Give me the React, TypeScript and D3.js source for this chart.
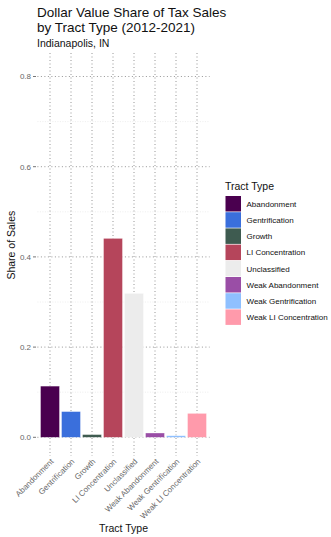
import React from "react";
import * as d3 from "d3";

const categories = [
  "Abandonment",
  "Gentrification",
  "Growth",
  "LI Concentration",
  "Unclassified",
  "Weak Abandonment",
  "Weak Gentrification",
  "Weak LI Concentration",
];
const shares = [0.1135, 0.057, 0.006, 0.441, 0.319, 0.0095, 0.0035, 0.053];
const colors = [
  "#4a004f",
  "#3a6fdc",
  "#3e5b50",
  "#b5455b",
  "#ececec",
  "#9a4ea6",
  "#8fc0ff",
  "#ff9aab",
];
const majorTicks = [0, 0.2, 0.4, 0.6, 0.8];
const minorTicks = [0.1, 0.3, 0.5, 0.7];

const W = 331;
const H = 537;
const panel = { left: 37.4, right: 209.6, top: 53, bottom: 437.3 };
const FONT = "'Liberation Sans', Arial, Helvetica, sans-serif";

export default function App() {
  const x = d3
    .scaleBand<string>()
    .domain(categories)
    .range([panel.left, panel.right])
    .paddingInner(0.1)
    .paddingOuter(0.15);
  const y = d3.scaleLinear().domain([0, 0.8]).range([panel.bottom, panel.bottom - 360.8]);
  const cx = (c: string) => (x(c) as number) + x.bandwidth() / 2;

  return (
    <svg
      width={W}
      height={H}
      style={{ position: "absolute", left: 0, top: 0, background: "#fff" }}
      fontFamily={FONT}
    >
      {/* title block */}
      <text x={37} y={17} fontSize={13.5} fill="#111">
        Dollar Value Share of Tax Sales
      </text>
      <text x={37} y={32} fontSize={13.5} fill="#111">
        by Tract Type (2012-2021)
      </text>
      <text x={37} y={47} fontSize={10.5} fill="#111">
        Indianapolis, IN
      </text>

      {/* minor grid */}
      {minorTicks.map((t) => (
        <line
          key={"mn" + t}
          x1={panel.left}
          x2={panel.right}
          y1={y(t)}
          y2={y(t)}
          stroke="#e3e3e3"
          strokeWidth={0.6}
          strokeDasharray="1 1.5"
        />
      ))}
      {/* major horizontal grid */}
      {majorTicks.map((t) => (
        <line
          key={"mj" + t}
          x1={panel.left}
          x2={panel.right}
          y1={y(t)}
          y2={y(t)}
          stroke="#8a8a8a"
          strokeWidth={0.9}
          strokeDasharray="1 2.5"
        />
      ))}
      {/* vertical grid extending through the axis */}
      {categories.map((c) => (
        <line
          key={"v" + c}
          x1={cx(c)}
          x2={cx(c)}
          y1={panel.top}
          y2={456}
          stroke="#8a8a8a"
          strokeWidth={0.9}
          strokeDasharray="1 2.5"
        />
      ))}

      {/* bars */}
      {categories.map((c, i) => (
        <rect
          key={"b" + c}
          x={x(c)}
          y={y(shares[i])}
          width={x.bandwidth()}
          height={y(0) - y(shares[i])}
          fill={colors[i]}
          stroke="#ffffff"
          strokeOpacity={0.6}
          strokeWidth={0.5}
        />
      ))}

      {/* y axis ticks and labels */}
      {majorTicks.map((t) => (
        <g key={"yt" + t}>
          <line x1={33} x2={36} y1={y(t)} y2={y(t)} stroke="#666" strokeWidth={0.9} />
          <text
            x={31}
            y={y(t)}
            dy="0.35em"
            textAnchor="end"
            fontSize={8}
            fill="#666"
          >
            {d3.format(".1f")(t)}
          </text>
        </g>
      ))}

      {/* x axis labels */}
      {categories.map((c) => (
        <text
          key={"xl" + c}
          transform={`translate(${cx(c) + 2},${460}) rotate(-45)`}
          textAnchor="end"
          dy="0.35em"
          fontSize={8}
          fill="#666"
        >
          {c}
        </text>
      ))}

      {/* axis titles */}
      <text x={(panel.left + panel.right) / 2} y={532} textAnchor="middle" fontSize={10.5} fill="#111">
        Tract Type
      </text>
      <text
        transform={`translate(15,${(panel.top + panel.bottom) / 2}) rotate(-90)`}
        textAnchor="middle"
        fontSize={10.5}
        fill="#111"
      >
        Share of Sales
      </text>

      {/* legend */}
      <text x={225} y={190} fontSize={10.5} fill="#111">
        Tract Type
      </text>
      {categories.map((c, i) => {
        const ky = 196 + i * 16.2;
        return (
          <g key={"lg" + c}>
            <rect x={225.5} y={ky} width={15.5} height={15.5} fill={colors[i]} />
            <text x={246.5} y={ky + 8} dy="0.35em" fontSize={8} fill="#111">
              {c}
            </text>
          </g>
        );
      })}
    </svg>
  );
}
